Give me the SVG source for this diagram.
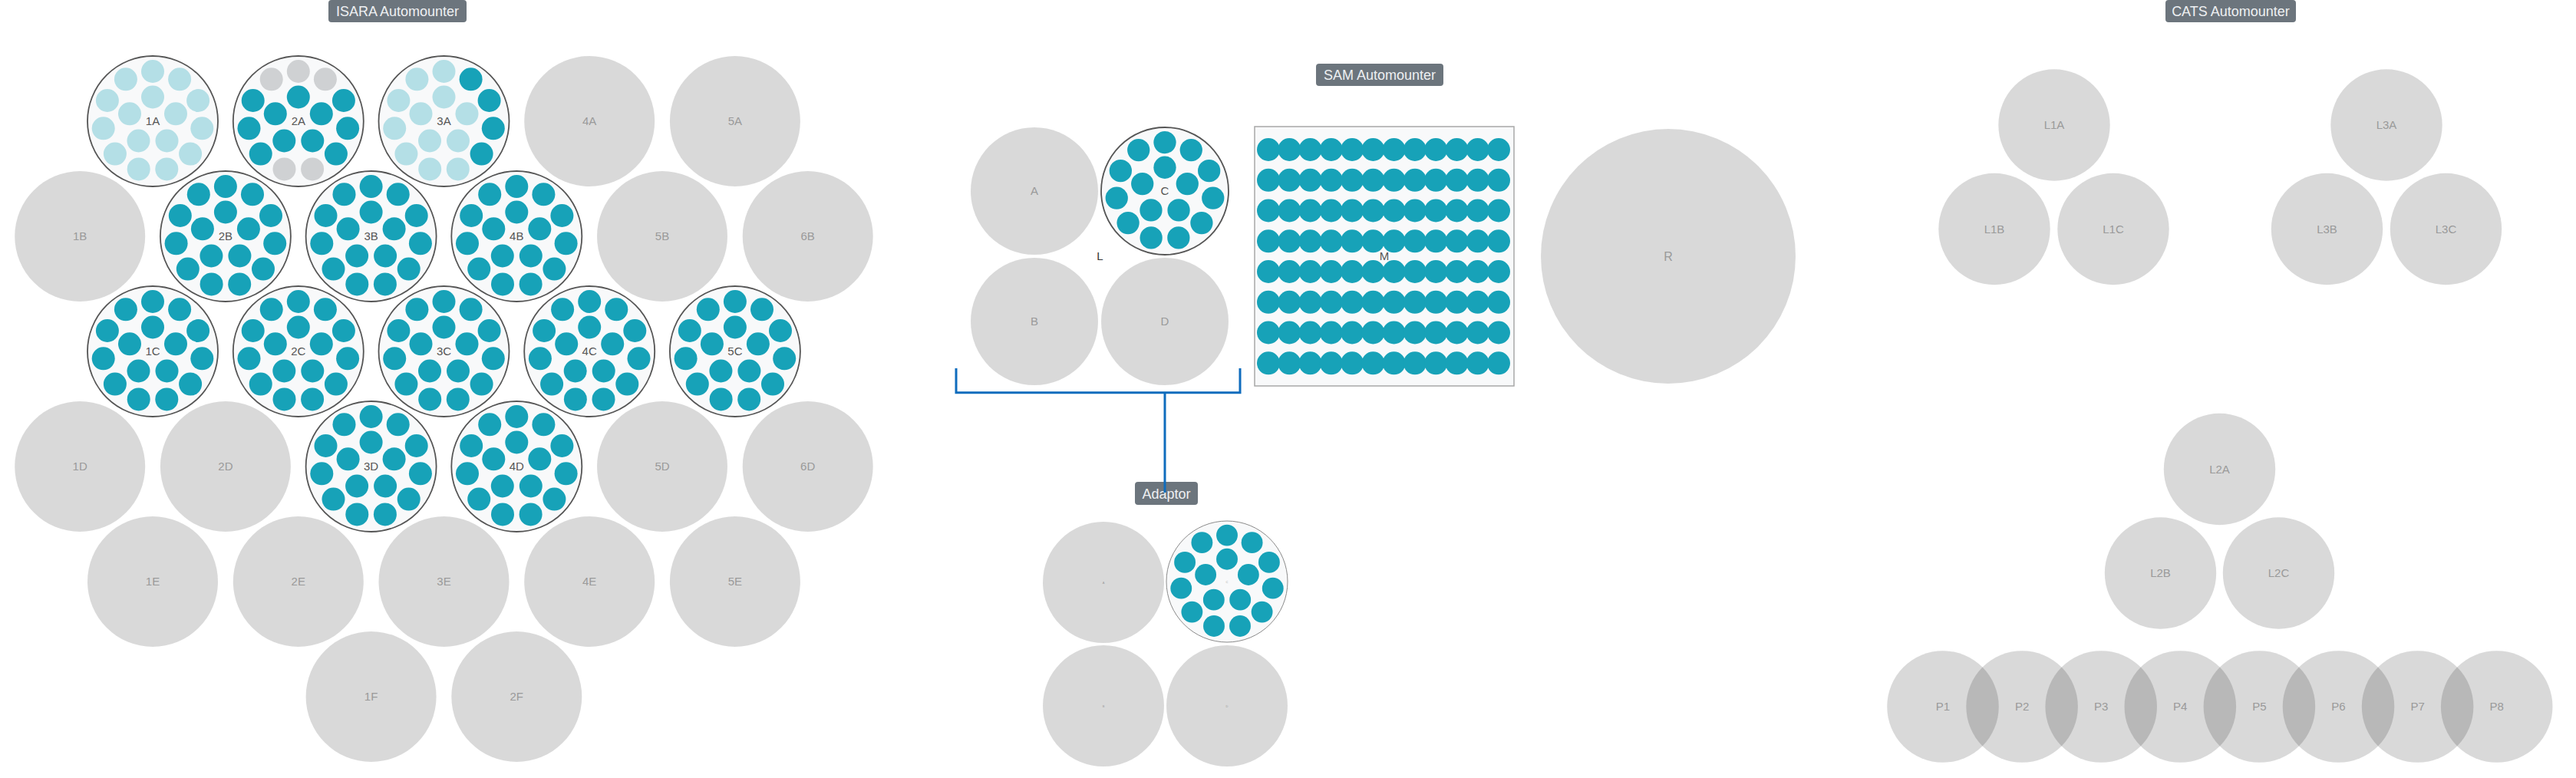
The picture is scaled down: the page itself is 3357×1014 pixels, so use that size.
<svg xmlns="http://www.w3.org/2000/svg" width="3357" height="1014" viewBox="0 0 3357 1014">
<style>
.bg{fill:#000;fill-opacity:0.15}
.pk{fill:#f8f9fa;stroke:#555;stroke-width:1.8}
.pks{fill:#f8f9fa;stroke:#8a8a8a;stroke-width:1}
.t{fill:#17a2b8}
.lt{fill:#b4dfe6}
.gr{fill:#cfd1d3}
.lb{font-family:"Liberation Sans",Arial,sans-serif;font-size:15px;text-anchor:middle;fill:#9a9a9a}
.ld{font-family:"Liberation Sans",Arial,sans-serif;font-size:15px;text-anchor:middle;fill:#555}
.tiny{font-family:"Liberation Sans",Arial,sans-serif;font-size:4px;text-anchor:middle;fill:#999}
.bdg{fill:#6c757d}
.bt{font-family:"Liberation Sans",Arial,sans-serif;font-size:18px;text-anchor:middle;fill:#eef0f2}
.con{fill:none;stroke:#0f6cbd;stroke-width:3}
</style>
<defs>
<g id="d16" class="t">
<circle cx="0" cy="-65" r="15"/><circle cx="35.1" cy="-54.7" r="15"/><circle cx="59.1" cy="-27" r="15"/><circle cx="64.3" cy="9.3" r="15"/><circle cx="49.1" cy="42.6" r="15"/><circle cx="18.3" cy="62.4" r="15"/><circle cx="-18.3" cy="62.4" r="15"/><circle cx="-49.1" cy="42.6" r="15"/><circle cx="-64.3" cy="9.3" r="15"/><circle cx="-59.1" cy="-27" r="15"/><circle cx="-35.1" cy="-54.7" r="15"/>
<circle cx="0" cy="-31.5" r="15"/><circle cx="30" cy="-9.7" r="15"/><circle cx="18.5" cy="25.5" r="15"/><circle cx="-18.5" cy="25.5" r="15"/><circle cx="-30" cy="-9.7" r="15"/>
</g>
<g id="mrow" class="t">
<circle cx="0" cy="0" r="15"/><circle cx="27.3" cy="0" r="15"/><circle cx="54.5" cy="0" r="15"/><circle cx="81.8" cy="0" r="15"/><circle cx="109.1" cy="0" r="15"/><circle cx="136.4" cy="0" r="15"/><circle cx="163.6" cy="0" r="15"/><circle cx="190.9" cy="0" r="15"/><circle cx="218.2" cy="0" r="15"/><circle cx="245.5" cy="0" r="15"/><circle cx="272.7" cy="0" r="15"/><circle cx="300" cy="0" r="15"/>
</g>
</defs>
<rect width="3357" height="1014" fill="#fff"/>

<!-- ISARA -->
<g id="isara-title"><rect class="bdg" x="428" y="0" width="180" height="29" rx="4"/><text class="bt" x="518" y="21">ISARA Automounter</text></g>

<g id="n1A" transform="translate(199,158)"><circle class="pk" r="85"/>
<g class="lt"><circle cx="0" cy="-65" r="15"/><circle cx="35.1" cy="-54.7" r="15"/><circle cx="59.1" cy="-27" r="15"/><circle cx="64.3" cy="9.3" r="15"/><circle cx="49.1" cy="42.6" r="15"/><circle cx="18.3" cy="62.4" r="15"/><circle cx="-18.3" cy="62.4" r="15"/><circle cx="-49.1" cy="42.6" r="15"/><circle cx="-64.3" cy="9.3" r="15"/><circle cx="-59.1" cy="-27" r="15"/><circle cx="-35.1" cy="-54.7" r="15"/><circle cx="0" cy="-31.5" r="15"/><circle cx="30" cy="-9.7" r="15"/><circle cx="18.5" cy="25.5" r="15"/><circle cx="-18.5" cy="25.5" r="15"/><circle cx="-30" cy="-9.7" r="15"/></g>
<text class="ld" x="0" y="5">1A</text></g>

<g id="n2A" transform="translate(388.8,158)"><circle class="pk" r="85"/>
<g class="gr"><circle cx="0" cy="-65" r="15"/><circle cx="35.1" cy="-54.7" r="15"/><circle cx="-35.1" cy="-54.7" r="15"/><circle cx="18.3" cy="62.4" r="15"/><circle cx="-18.3" cy="62.4" r="15"/></g>
<g class="t"><circle cx="59.1" cy="-27" r="15"/><circle cx="64.3" cy="9.3" r="15"/><circle cx="49.1" cy="42.6" r="15"/><circle cx="-49.1" cy="42.6" r="15"/><circle cx="-64.3" cy="9.3" r="15"/><circle cx="-59.1" cy="-27" r="15"/><circle cx="0" cy="-31.5" r="15"/><circle cx="30" cy="-9.7" r="15"/><circle cx="18.5" cy="25.5" r="15"/><circle cx="-18.5" cy="25.5" r="15"/><circle cx="-30" cy="-9.7" r="15"/></g>
<text class="ld" x="0" y="5">2A</text></g>

<g id="n3A" transform="translate(578.5,158)"><circle class="pk" r="85"/>
<g class="t"><circle cx="35.1" cy="-54.7" r="15"/><circle cx="59.1" cy="-27" r="15"/><circle cx="64.3" cy="9.3" r="15"/><circle cx="49.1" cy="42.6" r="15"/></g>
<g class="lt"><circle cx="0" cy="-65" r="15"/><circle cx="18.3" cy="62.4" r="15"/><circle cx="-18.3" cy="62.4" r="15"/><circle cx="-49.1" cy="42.6" r="15"/><circle cx="-64.3" cy="9.3" r="15"/><circle cx="-59.1" cy="-27" r="15"/><circle cx="-35.1" cy="-54.7" r="15"/><circle cx="0" cy="-31.5" r="15"/><circle cx="30" cy="-9.7" r="15"/><circle cx="18.5" cy="25.5" r="15"/><circle cx="-18.5" cy="25.5" r="15"/><circle cx="-30" cy="-9.7" r="15"/></g>
<text class="ld" x="0" y="5">3A</text></g>

<g id="n4A"><circle class="bg" cx="768.2" cy="158" r="85"/><text class="lb" x="768.2" y="163">4A</text></g>
<g id="n5A"><circle class="bg" cx="957.9" cy="158" r="85"/><text class="lb" x="957.9" y="163">5A</text></g>

<g id="n1B"><circle class="bg" cx="104.2" cy="308" r="85"/><text class="lb" x="104.2" y="313">1B</text></g>
<g id="n2B"><circle class="pk" cx="293.9" cy="308" r="85"/><use href="#d16" x="293.9" y="308"/><text class="ld" x="293.9" y="313">2B</text></g>
<g id="n3B"><circle class="pk" cx="483.6" cy="308" r="85"/><use href="#d16" x="483.6" y="308"/><text class="ld" x="483.6" y="313">3B</text></g>
<g id="n4B"><circle class="pk" cx="673.3" cy="308" r="85"/><use href="#d16" x="673.3" y="308"/><text class="ld" x="673.3" y="313">4B</text></g>
<g id="n5B"><circle class="bg" cx="863" cy="308" r="85"/><text class="lb" x="863" y="313">5B</text></g>
<g id="n6B"><circle class="bg" cx="1052.7" cy="308" r="85"/><text class="lb" x="1052.7" y="313">6B</text></g>

<g id="n1C"><circle class="pk" cx="199" cy="458" r="85"/><use href="#d16" x="199" y="458"/><text class="ld" x="199" y="463">1C</text></g>
<g id="n2C"><circle class="pk" cx="388.8" cy="458" r="85"/><use href="#d16" x="388.8" y="458"/><text class="ld" x="388.8" y="463">2C</text></g>
<g id="n3C"><circle class="pk" cx="578.5" cy="458" r="85"/><use href="#d16" x="578.5" y="458"/><text class="ld" x="578.5" y="463">3C</text></g>
<g id="n4C"><circle class="pk" cx="768.2" cy="458" r="85"/><use href="#d16" x="768.2" y="458"/><text class="ld" x="768.2" y="463">4C</text></g>
<g id="n5C"><circle class="pk" cx="957.9" cy="458" r="85"/><use href="#d16" x="957.9" y="458"/><text class="ld" x="957.9" y="463">5C</text></g>

<g id="n1D"><circle class="bg" cx="104.2" cy="608" r="85"/><text class="lb" x="104.2" y="613">1D</text></g>
<g id="n2D"><circle class="bg" cx="293.9" cy="608" r="85"/><text class="lb" x="293.9" y="613">2D</text></g>
<g id="n3D"><circle class="pk" cx="483.6" cy="608" r="85"/><use href="#d16" x="483.6" y="608"/><text class="ld" x="483.6" y="613">3D</text></g>
<g id="n4D"><circle class="pk" cx="673.3" cy="608" r="85"/><use href="#d16" x="673.3" y="608"/><text class="ld" x="673.3" y="613">4D</text></g>
<g id="n5D"><circle class="bg" cx="863" cy="608" r="85"/><text class="lb" x="863" y="613">5D</text></g>
<g id="n6D"><circle class="bg" cx="1052.7" cy="608" r="85"/><text class="lb" x="1052.7" y="613">6D</text></g>

<g id="n1E"><circle class="bg" cx="199" cy="758" r="85"/><text class="lb" x="199" y="763">1E</text></g>
<g id="n2E"><circle class="bg" cx="388.8" cy="758" r="85"/><text class="lb" x="388.8" y="763">2E</text></g>
<g id="n3E"><circle class="bg" cx="578.5" cy="758" r="85"/><text class="lb" x="578.5" y="763">3E</text></g>
<g id="n4E"><circle class="bg" cx="768.2" cy="758" r="85"/><text class="lb" x="768.2" y="763">4E</text></g>
<g id="n5E"><circle class="bg" cx="957.9" cy="758" r="85"/><text class="lb" x="957.9" y="763">5E</text></g>

<g id="n1F"><circle class="bg" cx="483.6" cy="908" r="85"/><text class="lb" x="483.6" y="913">1F</text></g>
<g id="n2F"><circle class="bg" cx="673.3" cy="908" r="85"/><text class="lb" x="673.3" y="913">2F</text></g>

<!-- SAM -->
<g id="sam-title"><rect class="bdg" x="1715" y="83" width="166" height="29" rx="4"/><text class="bt" x="1798" y="104">SAM Automounter</text></g>
<g id="sA"><circle class="bg" cx="1348" cy="249" r="83"/><text class="lb" x="1348" y="254">A</text></g>
<g id="sC"><circle class="pk" cx="1518" cy="249" r="83"/><use href="#d16" transform="translate(1518,249) scale(0.976)"/><text class="ld" x="1518" y="254">C</text></g>
<g id="sB"><circle class="bg" cx="1348" cy="419" r="83"/><text class="lb" x="1348" y="424">B</text></g>
<g id="sD"><circle class="bg" cx="1518" cy="419" r="83"/><text class="lb" x="1518" y="424">D</text></g>
<g id="sL"><text class="ld" x="1433.5" y="339" style="fill:#333">L</text></g>
<g id="sM"><rect x="1635" y="165" width="338" height="338" fill="#f8f9fa" stroke="#a8a8a8" stroke-width="1.5"/>
<use href="#mrow" x="1653" y="195"/><use href="#mrow" x="1653" y="234.8"/><use href="#mrow" x="1653" y="274.5"/><use href="#mrow" x="1653" y="314.3"/><use href="#mrow" x="1653" y="354"/><use href="#mrow" x="1653" y="393.8"/><use href="#mrow" x="1653" y="433.5"/><use href="#mrow" x="1653" y="473.3"/>
<text class="ld" x="1804" y="339">M</text></g>
<g id="sR"><circle class="bg" cx="2174" cy="334" r="166"/><text class="lb" x="2174" y="340" style="font-size:16px">R</text></g>

<!-- Adaptor -->
<g id="adaptor-title"><rect class="bdg" x="1479" y="628" width="82" height="30" rx="4"/><text class="bt" x="1520" y="649.5">Adaptor</text></g>
<g id="aA"><circle class="bg" cx="1438" cy="759" r="79"/><text class="tiny" x="1438" y="760.5">A</text></g>
<g id="aC"><circle class="pks" cx="1599" cy="758" r="79"/><use href="#d16" transform="translate(1599,758) scale(0.929)"/><text class="tiny" x="1599" y="759.5">C</text></g>
<g id="aB"><circle class="bg" cx="1438" cy="920" r="79"/><text class="tiny" x="1438" y="921.5">B</text></g>
<g id="aD"><circle class="bg" cx="1599" cy="920" r="79"/><text class="tiny" x="1599" y="921.5">D</text></g>

<!-- CATS -->
<g id="cats-title"><rect class="bdg" x="2822" y="0" width="170" height="29" rx="4"/><text class="bt" x="2907" y="21">CATS Automounter</text></g>
<g id="L1A"><circle class="bg" cx="2677" cy="163" r="72.7"/><text class="lb" x="2677" y="168">L1A</text></g>
<g id="L1B"><circle class="bg" cx="2599" cy="298.5" r="72.7"/><text class="lb" x="2599" y="303.5">L1B</text></g>
<g id="L1C"><circle class="bg" cx="2754" cy="298.5" r="72.7"/><text class="lb" x="2754" y="303.5">L1C</text></g>
<g id="L3A"><circle class="bg" cx="3110" cy="163" r="72.7"/><text class="lb" x="3110" y="168">L3A</text></g>
<g id="L3B"><circle class="bg" cx="3032.5" cy="298.5" r="72.7"/><text class="lb" x="3032.5" y="303.5">L3B</text></g>
<g id="L3C"><circle class="bg" cx="3187.5" cy="298.5" r="72.7"/><text class="lb" x="3187.5" y="303.5">L3C</text></g>
<g id="L2A"><circle class="bg" cx="2892.5" cy="611.5" r="72.7"/><text class="lb" x="2892.5" y="616.5">L2A</text></g>
<g id="L2B"><circle class="bg" cx="2815.5" cy="747" r="72.7"/><text class="lb" x="2815.5" y="752">L2B</text></g>
<g id="L2C"><circle class="bg" cx="2969.5" cy="747" r="72.7"/><text class="lb" x="2969.5" y="752">L2C</text></g>
<g id="P1"><circle class="bg" cx="2532" cy="921" r="72.8"/><text class="lb" x="2532" y="926">P1</text></g>
<g id="P2"><circle class="bg" cx="2635.1" cy="921" r="72.8"/><text class="lb" x="2635.1" y="926">P2</text></g>
<g id="P3"><circle class="bg" cx="2738.2" cy="921" r="72.8"/><text class="lb" x="2738.2" y="926">P3</text></g>
<g id="P4"><circle class="bg" cx="2841.3" cy="921" r="72.8"/><text class="lb" x="2841.3" y="926">P4</text></g>
<g id="P5"><circle class="bg" cx="2944.4" cy="921" r="72.8"/><text class="lb" x="2944.4" y="926">P5</text></g>
<g id="P6"><circle class="bg" cx="3047.5" cy="921" r="72.8"/><text class="lb" x="3047.5" y="926">P6</text></g>
<g id="P7"><circle class="bg" cx="3150.6" cy="921" r="72.8"/><text class="lb" x="3150.6" y="926">P7</text></g>
<g id="P8"><circle class="bg" cx="3253.7" cy="921" r="72.8"/><text class="lb" x="3253.7" y="926">P8</text></g>

<!-- connectors -->
<g id="connectors">
<path class="con" d="M1246,480 V511.7 H1616 V480"/>
<path class="con" d="M1518,511.7 V642"/>
</g>
</svg>
